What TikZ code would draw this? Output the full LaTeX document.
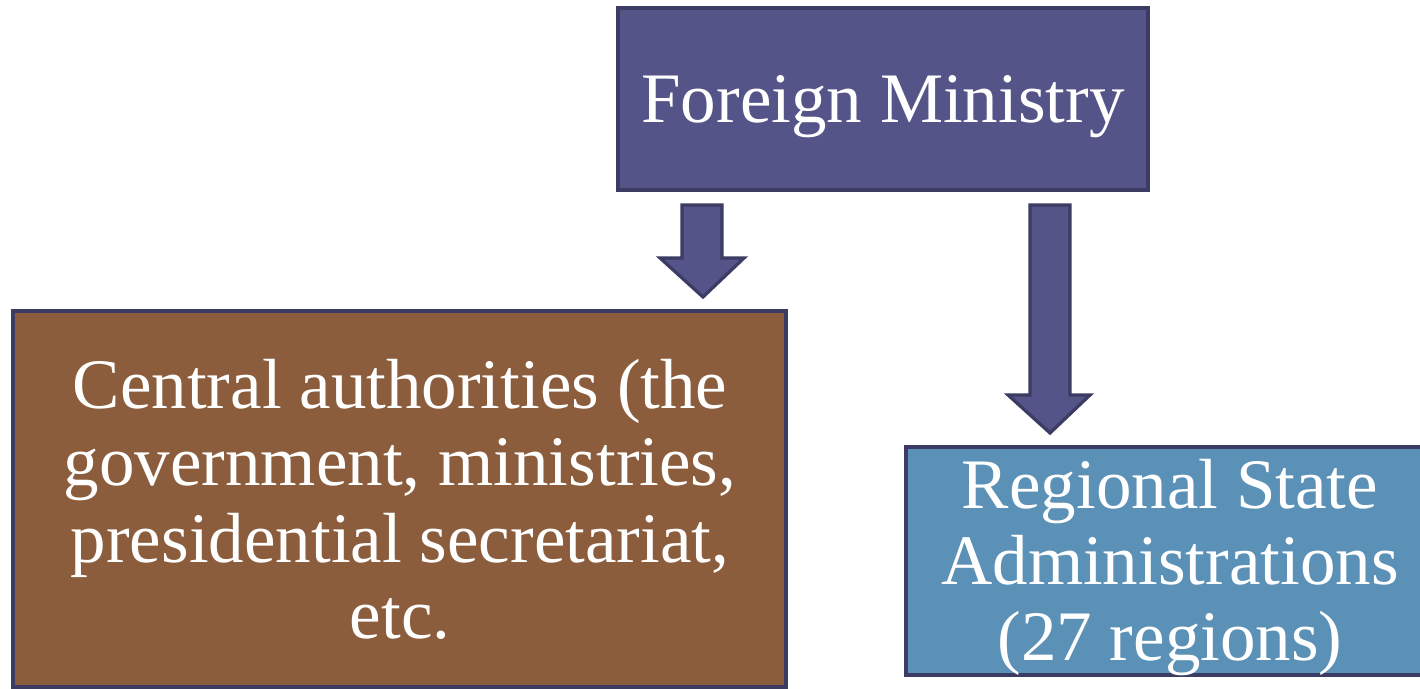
\documentclass[tikz,border=0pt]{standalone}
\usepackage{fontspec}
\setmainfont{Liberation Serif}
\definecolor{fmfill}{HTML}{545489}
\definecolor{fmedge}{HTML}{3B3B63}
\definecolor{cafill}{HTML}{8B5D3C}
\definecolor{rsfill}{HTML}{5B91B7}
\begin{document}
\begin{tikzpicture}[x=1pt,y=-1pt,
  boxshape/.style={draw=fmedge,line width=3.2pt,rectangle,inner sep=0pt},
  blockarrow/.style={draw=fmedge,fill=fmfill,line width=3.2pt,line join=miter},
  txt/.style={text=white,font=\fontsize{71}{76}\selectfont,anchor=base,inner sep=0pt}]
\useasboundingbox (0,0) rectangle (1420,688);
% boxes
\node[boxshape,fill=fmfill,minimum width=530pt,minimum height=182pt] (fm) at (883,99) {};
\node[boxshape,fill=cafill,minimum width=773pt,minimum height=376pt] (ca) at (399.5,499) {};
\node[boxshape,fill=rsfill,minimum width=520pt,minimum height=228pt] (rs) at (1166,561) {};
% texts
\node[txt] (fmt) at (883,122) {Foreign Ministry};
\node[txt] (ca1) at (400,408) {Central authorities (the};
\node[txt] (ca2) at (400,485) {government, ministries,};
\node[txt] (ca3) at (400,562) {presidential secretariat,};
\node[txt] (ca4) at (400,638) {etc.};
\node[txt] (rs1) at (1170,508) {Regional State};
\node[txt] (rs2) at (1170,584) {Administrations};
\node[txt] (rs3) at (1170,660) {(27 regions)};
% block arrows
\draw[blockarrow] (682,205) -- (722,205) -- (722,258) -- (744,258) -- (703,297) -- (660,258) -- (682,258) -- cycle;
\draw[blockarrow] (1030,205) -- (1070,205) -- (1070,395) -- (1090,395) -- (1050,433) -- (1008,395) -- (1030,395) -- cycle;
\end{tikzpicture}
\end{document}
